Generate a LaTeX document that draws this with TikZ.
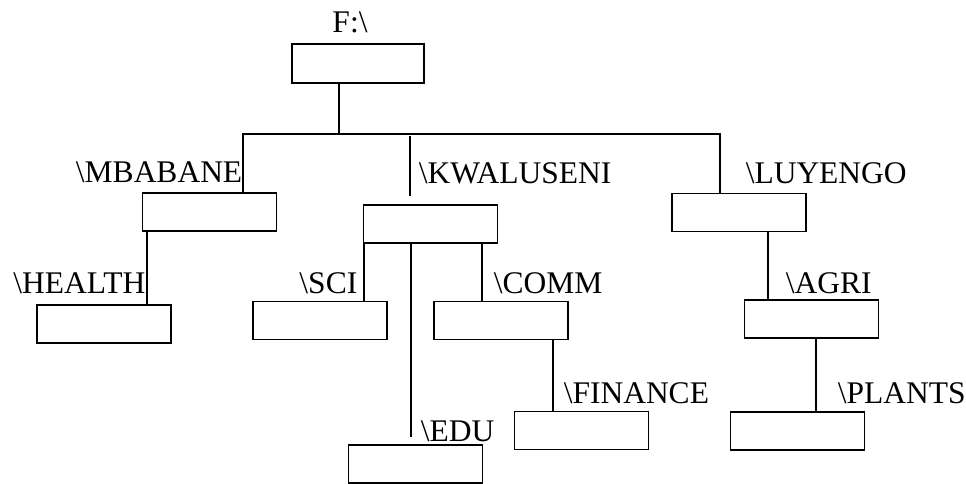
\documentclass[tikz,border=0pt]{standalone}
\usepackage{fontspec}
\setmainfont{Liberation Serif}

\begin{document}
\begin{tikzpicture}[x=1pt, y=-1pt, line width=1.5pt, line cap=rect,
  dirbox/.style={draw, line width=1.8pt, minimum width=134pt, minimum height=38pt, inner sep=0pt},
  dirname/.style={inner sep=0pt, font=\fontsize{31.5}{36}\selectfont}]
  \useasboundingbox (0,0) rectangle (966,484);

  % folder boxes
  \node[dirbox, minimum width=132pt, minimum height=39pt] (root) at (358,63.5) {};
  \node[dirbox] (mbabane)   at (209.5,212) {};
  \node[dirbox] (kwaluseni) at (430.5,224) {};
  \node[dirbox] (luyengo)   at (739,212.5) {};
  \node[dirbox] (health)    at (104,324) {};
  \node[dirbox] (sci)       at (320,320.5) {};
  \node[dirbox] (comm)      at (501,320.5) {};
  \node[dirbox] (edu)       at (415.5,464) {};
  \node[dirbox] (finance)   at (581.5,430.5) {};
  \node[dirbox] (agri)      at (811.5,319) {};
  \node[dirbox] (plants)    at (797.5,431) {};

  % folder names
  \node[dirname, anchor=base]      (lroot)      at (350,33)  {F:\textbackslash};
  \node[dirname, anchor=base east] (lmbabane)   at (243,182) {\textbackslash MBABANE};
  \node[dirname, anchor=base west] (lkwaluseni) at (418,183) {\textbackslash KWALUSENI};
  \node[dirname, anchor=base west] (lluyengo)   at (745,183) {\textbackslash LUYENGO};
  \node[dirname, anchor=base east] (lhealth)    at (146,293) {\textbackslash HEALTH};
  \node[dirname, anchor=base east] (lsci)       at (358,293) {\textbackslash SCI};
  \node[dirname, anchor=base west] (lcomm)      at (493,293) {\textbackslash COMM};
  \node[dirname, anchor=base west] (ledu)       at (420,441) {\textbackslash EDU};
  \node[dirname, anchor=base west] (lfinance)   at (563,403) {\textbackslash FINANCE};
  \node[dirname, anchor=base west] (lagri)      at (785,293) {\textbackslash AGRI};
  \node[dirname, anchor=base west] (lplants)    at (837,403) {\textbackslash PLANTS};

  % drive to campus folders
  \coordinate (bus)  at (339,134);
  \coordinate (busl) at (243,134);
  \coordinate (busr) at (720,134);
  \coordinate (kwtop) at (410,137);
  \draw (root.south -| bus) -- (bus);
  \draw (busl) -- (busr);
  \draw (busl) -- (busl |- mbabane.north);
  \draw (busr) -- (busr |- luyengo.north);
  \draw (kwtop) -- ([yshift=9pt]kwaluseni.north -| kwtop);

  % sub folders
  \foreach \p/\c/\x in {mbabane/health/147, kwaluseni/sci/364, kwaluseni/comm/482,
                        comm/finance/553, luyengo/agri/768, agri/plants/816} {
    \coordinate (s) at (\x,0);
    \draw (\p.south -| s) -- (\c.north -| s);
  }
  \coordinate (s) at (411,0);
  \draw (kwaluseni.south -| s) -- ([yshift=8pt]edu.north -| s);
\end{tikzpicture}
\end{document}
